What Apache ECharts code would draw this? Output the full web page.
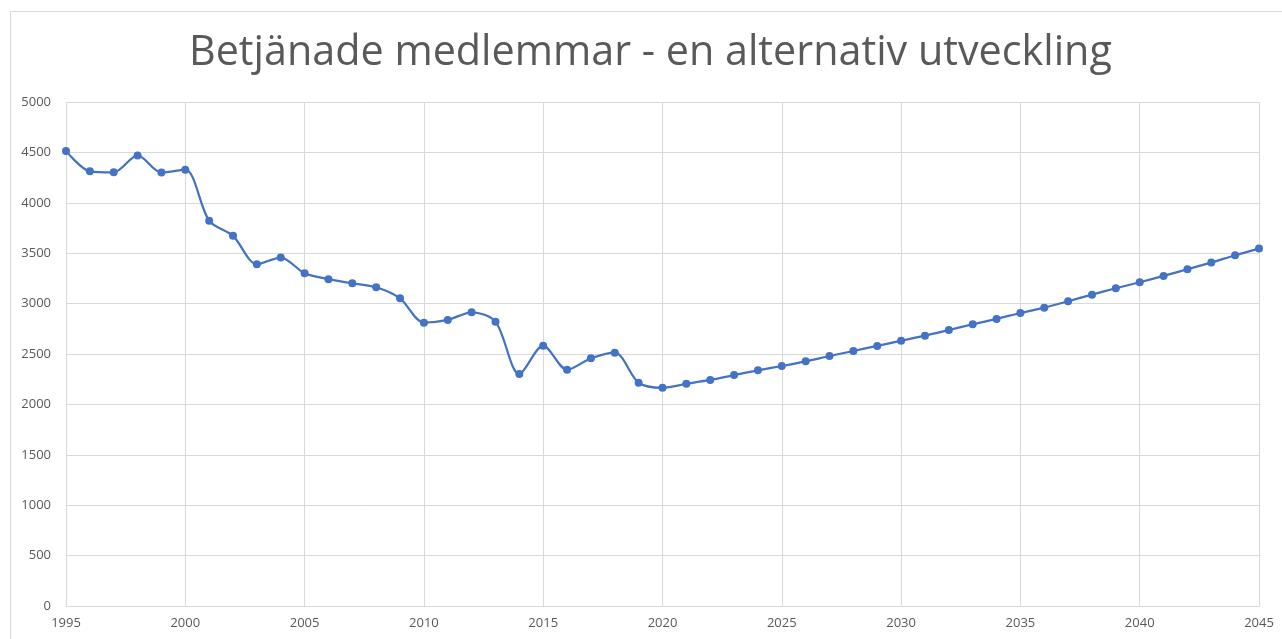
<!DOCTYPE html>
<html>
<head>
<meta charset="utf-8">
<script src="https://cdn.jsdelivr.net/npm/echarts@6/dist/echarts.min.js"></script>
<style>
  html, body { margin: 0; padding: 0; background: #fff; }
  #chart { width: 1282px; height: 639px; }
  .frame {
    position: absolute; left: 10px; top: 11px; width: 1290px; height: 640px;
    border-top: 1px solid #d9d9d9; border-left: 1px solid #d9d9d9;
    pointer-events: none;
  }
</style>
</head>
<body>
<div id="chart"></div>
<div class="frame"></div>
<script>
// år och betjänade medlemmar
const years = [
  1995, 1996, 1997, 1998, 1999, 2000, 2001, 2002, 2003, 2004,
  2005, 2006, 2007, 2008, 2009, 2010, 2011, 2012, 2013, 2014,
  2015, 2016, 2017, 2018, 2019, 2020, 2021, 2022, 2023, 2024,
  2025, 2026, 2027, 2028, 2029, 2030, 2031, 2032, 2033, 2034,
  2035, 2036, 2037, 2038, 2039, 2040, 2041, 2042, 2043, 2044, 2045
]
const members = [
  4515, 4312, 4302, 4470, 4300, 4328, 3821, 3672, 3391, 3457,
  3301, 3242, 3202, 3162, 3052, 2811, 2838, 2914, 2821, 2301,
  2583, 2344, 2457, 2513, 2215, 2165, 2204, 2243, 2291, 2338,
  2381, 2427, 2480, 2530, 2580, 2632, 2682, 2738, 2795, 2848,
  2907, 2960, 3023, 3089, 3152, 3212, 3275, 3341, 3407, 3480, 3546
]
const titleText = 'Betjänade medlemmar - en alternativ utveckling'

const myChart = echarts.init(document.getElementById('chart'))
const labelColor = '#595959'
const option = {
  animation: false,
  title: {
    text: titleText,
    left: 184,
    top: 28,
    textStyle: {
      fontFamily: 'Open Sans',
      fontSize: 41.3,
      fontWeight: 'normal',
      color: labelColor
    }
  },
  grid: {
    left: 66,
    right: 23,
    top: 102,
    bottom: 33
  },
  xAxis: {
    type: 'value',
    min: 1995,
    max: 2045,
    interval: 5,
    axisLine: { show: true, lineStyle: { color: '#d9d9d9', width: 1 } },
    axisTick: { show: false },
    axisLabel: {
      color: labelColor,
      fontFamily: 'Open Sans',
      fontSize: 13,
      margin: 11,
      showMinLabel: true,
      showMaxLabel: true,
      formatter: v => String(v)
    },
    splitLine: { show: true, lineStyle: { color: '#d9d9d9', width: 1 } }
  },
  yAxis: {
    type: 'value',
    min: 0,
    max: 5000,
    interval: 500,
    axisLine: { show: false },
    axisTick: { show: false },
    axisLabel: {
      color: labelColor,
      fontFamily: 'Open Sans',
      fontSize: 13,
      margin: 15,
      formatter: v => String(v)
    },
    splitLine: { show: true, lineStyle: { color: '#d9d9d9', width: 1 } }
  },
  series: [
    {
      name: 'Betjänade medlemmar',
      type: 'line',
      smooth: 0.3,
      data: years.map((y, i) => [y, members[i]]),
      symbol: 'circle',
      symbolSize: 8,
      itemStyle: { color: '#4472c4' },
      lineStyle: { color: '#4472c4', width: 2.25 }
    }
  ]
}
myChart.setOption(option)
</script>
</body>
</html>
